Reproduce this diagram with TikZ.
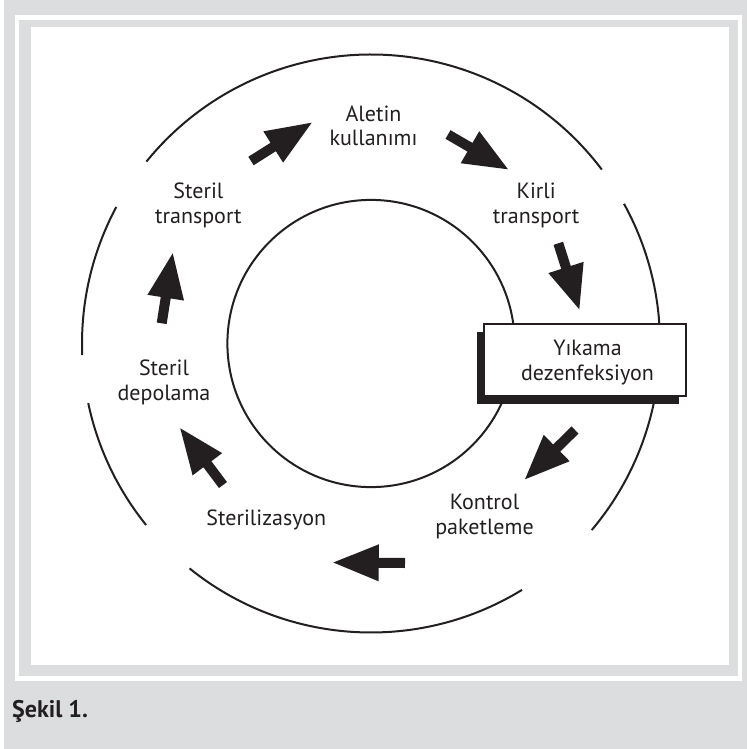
\documentclass[tikz,border=0pt]{standalone}
\usepackage{fontspec}
\usetikzlibrary{calc,shadows}
\newfontfamily\lblfont{PT Sans}
\newfontfamily\capfont{PT Sans}
\definecolor{bggray}{RGB}{220,221,223}
\definecolor{ink}{RGB}{35,31,32}
\newcommand\blockarrow[2]{%
  \coordinate (#1-base) at ($(#1)!0.366!(#2)$);
  \fill[ink] ($(#1)!5pt!90:(#2)$) -- ($(#1-base)!5pt!90:(#2)$)
    -- ($(#1-base)!18.5pt!90:(#2)$) -- (#2)
    -- ($(#1-base)!18.5pt!-90:(#2)$) -- ($(#1-base)!5pt!-90:(#2)$)
    -- ($(#1)!5pt!-90:(#2)$) -- cycle;}
\tikzset{
  ring/.style={draw=ink, line width=2pt},
  lbl/.style={font=\lblfont\fontsize{22}{24.7}\selectfont, text=ink, align=center, inner sep=0pt, anchor=base},
  stagebox/.style={draw=ink, fill=white, line width=2pt, minimum width=201.8pt, minimum height=72.1pt, inner sep=0pt,
    drop shadow={shadow xshift=-7.1pt, shadow yshift=-7.8pt, fill=ink, opacity=1}},
}
\begin{document}
\begin{tikzpicture}[x=1pt,y=1pt]
\useasboundingbox (0,0) rectangle (747,-749);
% frame
\fill[white] (0,0) rectangle (747,-749);
\fill[bggray] (4,0) rectangle (747,-749);
\fill[white] (15,-15) rectangle (742,-681);
\fill[bggray] (19,-20.5) rectangle (738,-676);
\fill[white] (31,-26.7) rectangle (728.7,-665);
% circles
\coordinate (C) at (371,-343.5);
\draw[ring] (C) circle[radius=143.6pt];
\draw[ring] ($(C)+(37:289pt)$) arc[start angle=37, end angle=141, radius=289pt];
\draw[ring] ($(C)+(-40.2:289pt)$) arc[start angle=-40.2, end angle=28.9, radius=289pt];
\draw[ring] ($(C)+(231.1:289pt)$) arc[start angle=231.1, end angle=301.5, radius=289pt];
\draw[ring] ($(C)+(191.9:289pt)$) arc[start angle=191.9, end angle=218.9, radius=289pt];
\draw[ring] ($(C)+(151.8:289pt)$) arc[start angle=151.8, end angle=182.3, radius=289pt];
% box
\node[stagebox] (yikama) at (585,-360.15) {};
% labels (anchored at the baseline of the last line)
\node[lbl] (alet) at (373.5,-146) {Aletin\\kullanımı};
\node[lbl] (kirli) at (536.2,-223.3) {Kirli\\transport};
\node[lbl] (sttr) at (198.4,-223.3) {Steril\\transport};
\node[lbl] (stdp) at (164,-400) {Steril\\depolama};
\node[lbl] (steril) at (266.3,-525) {Sterilizasyon};
\node[lbl] (kontrol) at (484.5,-534) {Kontrol\\paketleme};
\node[lbl] (yktext) at (587.5,-380) {Yıkama\\dezenfeksiyon};
% arrows
\coordinate (t1) at (251,-161);   \coordinate (h1) at (311.7,-122.7);
\coordinate (t2) at (448,-134.5); \coordinate (h2) at (508,-169.3);
\coordinate (t3) at (558.3,-243.3); \coordinate (h3) at (579.3,-309.3);
\coordinate (t4) at (575,-430);   \coordinate (h4) at (525,-479.3);
\coordinate (t5) at (405,-563);   \coordinate (h5) at (333.3,-562.5);
\coordinate (t6) at (223,-485);   \coordinate (h6) at (180.3,-428.3);
\coordinate (t7) at (161.7,-323.3); \coordinate (h7) at (172.7,-253.3);
\blockarrow{t1}{h1}
\blockarrow{t2}{h2}
\blockarrow{t3}{h3}
\blockarrow{t4}{h4}
\blockarrow{t5}{h5}
\blockarrow{t6}{h6}
\blockarrow{t7}{h7}
% caption
\node[anchor=base west, inner sep=0pt, text=ink, font=\capfont\bfseries\fontsize{24}{26}\selectfont] (cap) at (12,-717) {Şekil 1.};
\end{tikzpicture}
\end{document}
